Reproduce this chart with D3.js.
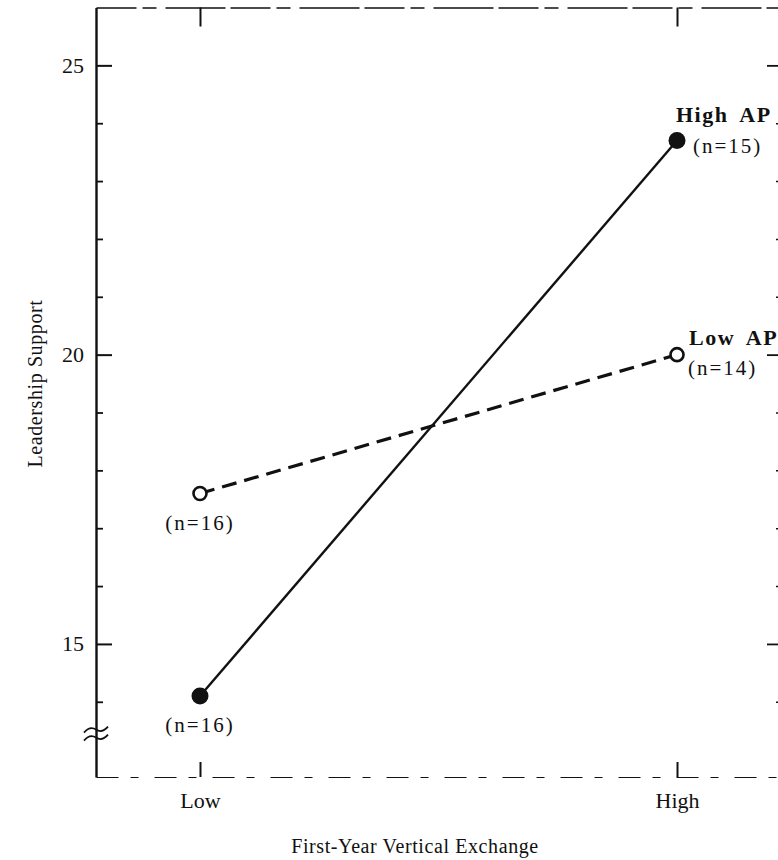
<!DOCTYPE html>
<html>
<head>
<meta charset="utf-8">
<script src="https://cdn.jsdelivr.net/npm/d3@7"></script>
<style>
  body { margin: 0; background: #fff; }
  svg { display: block; font-family: 'Liberation Serif', 'Times New Roman', serif; }
  .axis text { font-family: 'Liberation Serif', 'Times New Roman', serif; font-size: 22px; fill: #111; }
  .axis line, .axis path { stroke: #111; }
</style>
</head>
<body>
<div id="chart"></div>
<script>
const categories = ['Low', 'High'];
const highAP = [14.1, 23.7];
const lowAP = [17.6, 20.0];
const nHighAP = [16, 15];
const nLowAP = [16, 14];
const majorTicks = [15, 20, 25];
const minorTicks = [14, 16, 17, 18, 19, 21, 22, 23, 24];

const width = 778;
const height = 860;
const frame = { left: 96, right: 781, top: 7.5, bottom: 777 };

const svg = d3
  .select('#chart')
  .append('svg')
  .attr('width', width)
  .attr('height', height);

const x = d3
  .scalePoint()
  .domain(categories)
  .range([frame.left, frame.right])
  .padding(0.218);

const y = d3.scaleLinear().domain([12.7, 26]).range([frame.bottom, frame.top]);

// left axis: major ticks with labels, minor ticks without
svg
  .append('g')
  .attr('class', 'axis y-left')
  .attr('transform', `translate(${frame.left},0)`)
  .call(d3.axisLeft(y).tickValues(majorTicks).tickSize(-16).tickSizeOuter(0).tickPadding(12).tickFormat(d3.format('d')))
  .call(g => g.select('.domain').attr('stroke-width', 2.4))
  .call(g => g.selectAll('.tick line').attr('stroke-width', 2));

svg
  .append('g')
  .attr('class', 'axis y-left-minor')
  .attr('transform', `translate(${frame.left},0)`)
  .call(d3.axisLeft(y).tickValues(minorTicks).tickSize(-7).tickSizeOuter(0).tickFormat(''))
  .call(g => g.select('.domain').remove())
  .call(g => g.selectAll('.tick line').attr('stroke-width', 1.8));

// right axis, sitting just past the edge, ticks pointing inward
svg
  .append('g')
  .attr('class', 'axis y-right')
  .attr('transform', `translate(${frame.right},0)`)
  .call(d3.axisRight(y).tickValues(majorTicks).tickSize(-14).tickSizeOuter(0).tickFormat(''))
  .call(g => g.selectAll('.tick line').attr('stroke-width', 1.8));

svg
  .append('g')
  .attr('class', 'axis y-right-minor')
  .attr('transform', `translate(${frame.right},0)`)
  .call(d3.axisRight(y).tickValues(minorTicks).tickSize(-5).tickSizeOuter(0).tickFormat(''))
  .call(g => g.select('.domain').remove())
  .call(g => g.selectAll('.tick line').attr('stroke-width', 1.5));

// top axis (faded print)
svg
  .append('g')
  .attr('class', 'axis x-top')
  .attr('transform', `translate(0,${frame.top})`)
  .call(d3.axisTop(x).tickSize(-19).tickSizeOuter(0).tickFormat(''))
  .call(g => g.select('.domain').attr('stroke', '#444').attr('stroke-width', 1.6).attr('stroke-dasharray', '40,6,14,9,60,5'))
  .call(g => g.selectAll('.tick line').attr('stroke-width', 2));

// bottom axis with category labels
svg
  .append('g')
  .attr('class', 'axis x-bottom')
  .attr('transform', `translate(0,${frame.bottom})`)
  .call(d3.axisBottom(x).tickSize(-15).tickSizeOuter(0).tickPadding(15))
  .call(g => g.select('.domain').attr('stroke', '#777').attr('stroke-width', 1.2).attr('stroke-dasharray', '22,12,8,16'))
  .call(g => g.selectAll('.tick line').attr('stroke-width', 2));

// axis break on the left axis
const breakY = y(13.45);
[-4, 4].forEach(off => {
  svg
    .append('path')
    .attr('d', `M${frame.left - 12},${breakY + off + 3} q6,-7 12,-3 t12,-3`)
    .attr('fill', 'none')
    .attr('stroke', '#111')
    .attr('stroke-width', 1.8);
});

// axis titles
svg
  .append('text')
  .attr('transform', `translate(42,${y(19.5)}) rotate(-90)`)
  .attr('text-anchor', 'middle')
  .style('font-size', '20px')
  .style('letter-spacing', '0.6px')
  .attr('fill', '#111')
  .text('Leadership Support');

svg
  .append('text')
  .attr('x', 415)
  .attr('y', 853)
  .attr('text-anchor', 'middle')
  .style('font-size', '20px')
  .style('letter-spacing', '0.6px')
  .attr('fill', '#111')
  .text('First-Year Vertical Exchange');

// lines
const line = d3
  .line()
  .x((d, i) => x(categories[i]))
  .y(d => y(d));

svg
  .append('path')
  .attr('d', line(lowAP))
  .attr('fill', 'none')
  .attr('stroke', '#111')
  .attr('stroke-width', 3.2)
  .attr('stroke-dasharray', '15,8');

svg
  .append('path')
  .attr('d', line(highAP))
  .attr('fill', 'none')
  .attr('stroke', '#111')
  .attr('stroke-width', 2.4);

// points
svg
  .selectAll('.dot-high')
  .data(highAP)
  .enter()
  .append('circle')
  .attr('class', 'dot-high')
  .attr('cx', (d, i) => x(categories[i]))
  .attr('cy', d => y(d))
  .attr('r', 8.5)
  .attr('fill', '#111');

svg
  .selectAll('.dot-low')
  .data(lowAP)
  .enter()
  .append('circle')
  .attr('class', 'dot-low')
  .attr('cx', (d, i) => x(categories[i]))
  .attr('cy', d => y(d))
  .attr('r', 6.5)
  .attr('fill', '#fff')
  .attr('stroke', '#111')
  .attr('stroke-width', 2.6);

// n labels
const nText = (sel, n) =>
  sel.style('font-size', '21px').style('letter-spacing', '2px').attr('fill', '#111').text(`(n=${n})`);

svg
  .append('text')
  .attr('x', x('Low'))
  .attr('y', y(lowAP[0]) + 36)
  .attr('text-anchor', 'middle')
  .call(nText, nLowAP[0]);

svg
  .append('text')
  .attr('x', x('Low'))
  .attr('y', y(highAP[0]) + 36)
  .attr('text-anchor', 'middle')
  .call(nText, nHighAP[0]);

// series labels at the High end
const seriesText = (sel, label) =>
  sel
    .style('font-size', '22px')
    .style('font-weight', 'bold')
    .style('letter-spacing', '1.5px')
    .style('word-spacing', '5px')
    .attr('fill', '#111')
    .text(label);

svg
  .append('text')
  .attr('x', x('High') - 1)
  .attr('y', y(highAP[1]) - 19)
  .call(seriesText, 'High AP');

svg
  .append('text')
  .attr('x', x('High') + 16)
  .attr('y', y(highAP[1]) + 12)
  .call(nText, nHighAP[1]);

svg
  .append('text')
  .attr('x', x('High') + 12)
  .attr('y', y(lowAP[1]) - 10)
  .call(seriesText, 'Low AP');

svg
  .append('text')
  .attr('x', x('High') + 11)
  .attr('y', y(lowAP[1]) + 20)
  .call(nText, nLowAP[1]);
</script>
</body>
</html>
